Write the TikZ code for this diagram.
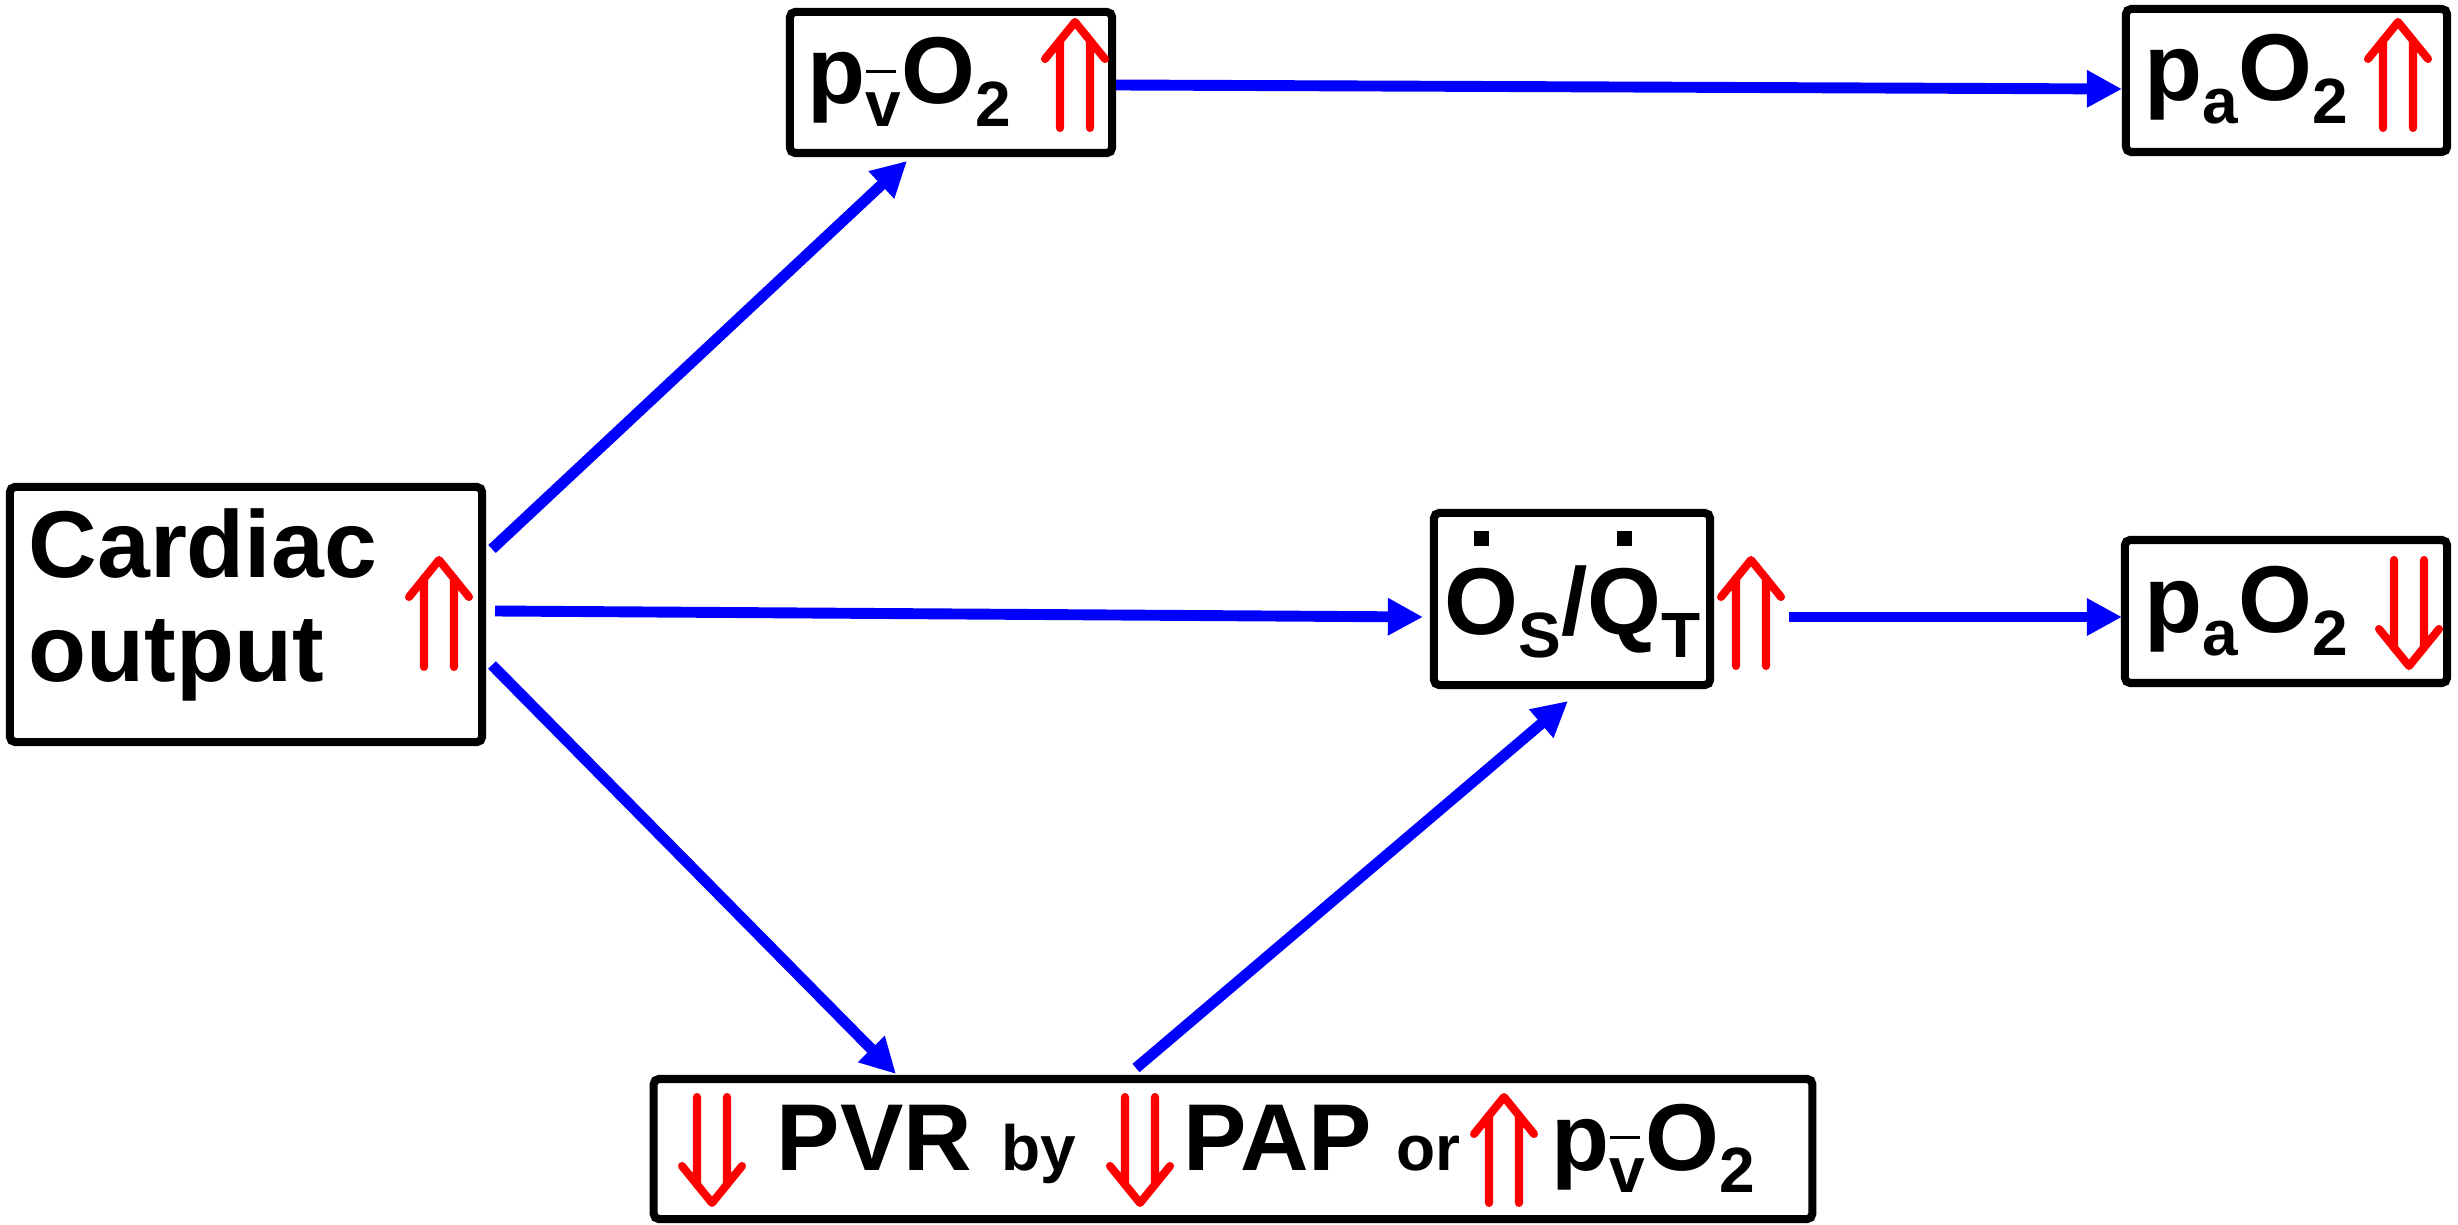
\documentclass[tikz,border=0pt]{standalone}
\usepackage{fontspec}
\setmainfont{Liberation Sans}
\usetikzlibrary{arrows.meta}
\definecolor{rblue}{RGB}{0,0,255}
\definecolor{rred}{RGB}{255,0,0}
\newcommand\bigf{\fontsize{27pt}{29.6pt}\selectfont\bfseries}
\newcommand\smf{\fontsize{18.2pt}{20pt}\selectfont\bfseries}
\newcommand\lsub[1]{\raisebox{-6.5pt}{\smf #1}}
\newcommand\vbar{\rlap{\rule[15.2pt]{8.6pt}{0.9pt}}v}
\newcommand\sqdot[1]{\setbox0\hbox{#1}\rlap{\hbox to \wd0{\hss\rule[25.3pt]{4.3pt}{4.3pt}\hss}}\box0}
\newcommand\UpArr[3]{%
  \draw[redarr] (#1-15,#3) -- (#1-15,#2+18) (#1+15,#3) -- (#1+15,#2+18)
    (#1-30,#2+37) -- (#1,#2) -- (#1+30,#2+37);}
\newcommand\DownArr[3]{%
  \draw[redarr] (#1-15,#2) -- (#1-15,#3-18) (#1+15,#2) -- (#1+15,#3-18)
    (#1-30,#3-37) -- (#1,#3) -- (#1+30,#3-37);}
\tikzset{
  box/.style={draw, line width=2.3pt, rounded corners=1.5pt, inner sep=0pt},
  conn/.style={draw=rblue, line width=3.1pt, -{Triangle[length=10pt,width=10pt]}},
  redarr/.style={draw=rred, line width=2.3pt, line cap=round, line join=round},
  lbl/.style={anchor=base west, inner sep=0pt, font=\bigf},
}
\begin{document}
\begin{tikzpicture}[x=0.01cm, y=-0.01cm]
\fill[white] (0,0) rectangle (2458,1225);
\useasboundingbox (0,0) rectangle (2458,1225);

% boxes
\node[box, minimum width=3.22cm, minimum height=1.41cm] (pv) at (951,82.5) {};
\node[box, minimum width=3.21cm, minimum height=1.43cm] (paTop) at (2286.5,80.5) {};
\node[box, minimum width=4.72cm, minimum height=2.55cm] (card) at (246,614.5) {};
\node[box, minimum width=2.76cm, minimum height=1.72cm] (qs) at (1572,599) {};
\node[box, minimum width=3.22cm, minimum height=1.43cm] (paMid) at (2286,611.5) {};
\node[box, minimum width=11.58cm, minimum height=1.40cm] (bot) at (1233,1149) {};

% texts
\node[lbl] (tcard1) at (28,578) {Cardiac};
\node[lbl] (tcard2) at (28,682) {output};
\node[lbl] (tpv) at (807,104) {p\lsub{\vbar}O\lsub{2}};
\node[lbl] (tpa1) at (2144,101) {p\lsub{a}O\lsub{2}};
\node[lbl] (tqs) at (1444,635) {\sqdot{O}\lsub{S}/\sqdot{Q}\lsub{T}};
\node[lbl] (tpa2) at (2144,633) {p\lsub{a}O\lsub{2}};
\node[lbl] (t1) at (776,1170) {PVR};
\node[lbl, font=\smf] (t2) at (1001,1170) {by};
\node[lbl] (t3) at (1183,1170) {PAP};
\node[lbl, font=\smf] (t4) at (1396,1170) {or};
\node[lbl] (t5) at (1551,1170) {p\lsub{\vbar}O\lsub{2}};

% red arrows
\UpArr{1075}{22}{128}
\UpArr{2398}{22}{128}
\UpArr{439}{560}{667}
\UpArr{1751}{560}{666}
\UpArr{1504}{1097}{1203}
\DownArr{2409}{560}{666}
\DownArr{712}{1097}{1203}
\DownArr{1140}{1097}{1203}

% connector end points
\coordinate (c1s) at (492,549);  \coordinate (c1e) at (907,161);
\coordinate (c2s) at (1116,85);  \coordinate (c2e) at (2122,89);
\coordinate (c3s) at (495,611);  \coordinate (c3e) at (1423,617);
\coordinate (c4s) at (492,665);  \coordinate (c4e) at (896,1074);
\coordinate (c5s) at (1136,1068); \coordinate (c5e) at (1568,701);
\coordinate (c6s) at (1789,617); \coordinate (c6e) at (2122,617);

\draw[conn] (c1s) -- (c1e);
\draw[conn] (c2s) -- (c2e);
\draw[conn] (c3s) -- (c3e);
\draw[conn] (c4s) -- (c4e);
\draw[conn] (c5s) -- (c5e);
\draw[conn] (c6s) -- (c6e);
\end{tikzpicture}
\end{document}
